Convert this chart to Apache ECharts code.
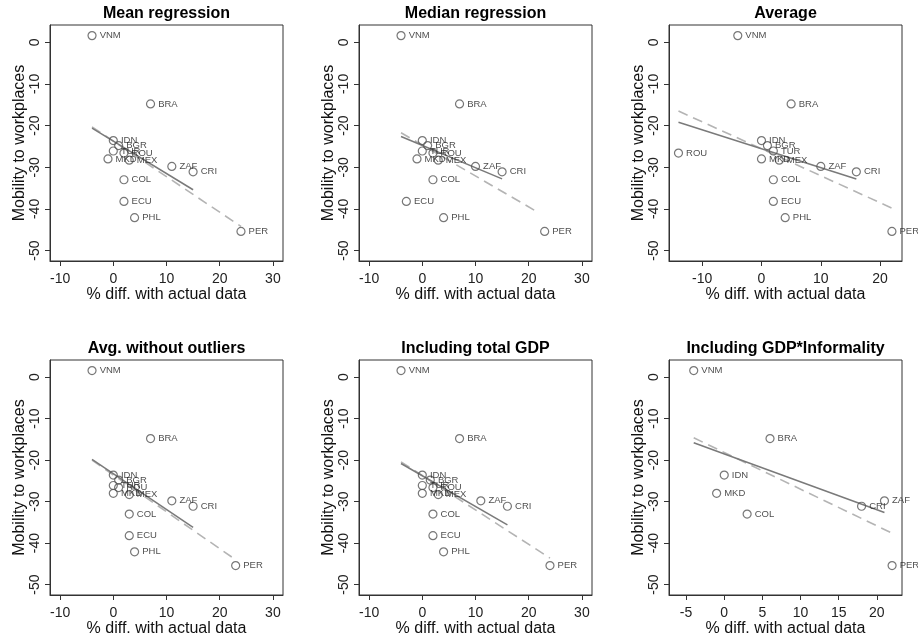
<!DOCTYPE html>
<html>
<head>
<meta charset="utf-8">
<script src="https://cdn.jsdelivr.net/npm/echarts@6/dist/echarts.min.js"></script>
<style>
html,body{margin:0;padding:0;background:#fff;}
#chart{width:918px;height:639px;}
</style>
</head>
<body>
<div id="chart"></div>
<script>
// ---- data ----
const countries = ['VNM','BRA','IDN','BGR','TUR','ROU','MKD','MEX','ZAF','CRI','COL','ECU','PHL','PER'];
const mobility  = [1.6,-14.8,-23.6,-24.8,-26.1,-26.6,-28.0,-28.3,-29.8,-31.1,-33.0,-38.2,-42.1,-45.4];

const diffMean           = [-4, 7, 0, 1,   0,  2,  -1, 3, 11, 15, 2,  2, 4, 24];
const diffMedian         = [-4, 7, 0, 1,   0,  2,  -1, 3, 10, 15, 2, -3, 4, 23];
const diffAverage        = [-4, 5, 0, 1,   2, -14,  0, 3, 10, 16, 2,  2, 4, 22];
const diffNoOutliers     = [-4, 7, 0, 1,   0,  1,   0, 3, 11, 15, 3,  3, 4, 23];
const diffTotalGdp       = [-4, 7, 0, 1.5, 0,  2,   0, 3, 11, 16, 2,  2, 4, 24];
const diffGdpInformality = [-4, 6, 0, null,null,null,-1,null,21,18, 3, null,null,22];

// fitted lines (endpoints): solid and dashed
const fitMeanSolid         = [[-4,-20.6],[15,-35.4]];
const fitMeanDashed        = [[-4,-20.3],[24,-44.2]];
const fitMedianSolid       = [[-4,-22.6],[15,-32.8]];
const fitMedianDashed      = [[-4,-21.7],[22,-41.0]];
const fitAverageSolid      = [[-14,-19.2],[16,-32.8]];
const fitAverageDashed     = [[-14,-16.5],[22,-39.8]];
const fitNoOutSolid        = [[-4,-19.8],[15,-36.2]];
const fitNoOutDashed       = [[-4,-20.0],[23,-44.0]];
const fitTotalGdpSolid     = [[-4,-20.8],[16,-35.6]];
const fitTotalGdpDashed    = [[-4,-20.4],[24,-43.6]];
const fitInformalitySolid  = [[-4,-15.8],[21,-32.6]];
const fitInformalityDashed = [[-4,-14.6],[22,-37.6]];

const panelTitles = ['Mean regression','Median regression','Average','Avg. without outliers','Including total GDP','Including GDP*Informality'];
const xTicksWide  = [-10, 0, 10, 20, 30];
const xTicksAvg   = [-10, 0, 10, 20];
const xTicksInf   = [-5, 0, 5, 10, 15, 20];
const yTicks      = [-50, -40, -30, -20, -10, 0];
const xTitle = '% diff. with actual data';
const yTitle = 'Mobility to workplaces';

// ---- layout ----
const FONT = '"Liberation Sans", Arial, sans-serif';
const panels = [
  {x: diffMean,           solid: fitMeanSolid,        dashed: fitMeanDashed,        xr: [-11.9, 31.9], ticks: xTicksWide, g: {left: 50,  top: 25,  width: 233, height: 236}},
  {x: diffMedian,         solid: fitMedianSolid,      dashed: fitMedianDashed,      xr: [-11.9, 31.9], ticks: xTicksWide, g: {left: 359, top: 25,  width: 233, height: 236}},
  {x: diffAverage,        solid: fitAverageSolid,     dashed: fitAverageDashed,     xr: [-15.6, 23.7], ticks: xTicksAvg,  g: {left: 669, top: 25,  width: 233, height: 236}},
  {x: diffNoOutliers,     solid: fitNoOutSolid,       dashed: fitNoOutDashed,       xr: [-11.9, 31.9], ticks: xTicksWide, g: {left: 50,  top: 360, width: 233, height: 235}},
  {x: diffTotalGdp,       solid: fitTotalGdpSolid,    dashed: fitTotalGdpDashed,    xr: [-11.9, 31.9], ticks: xTicksWide, g: {left: 359, top: 360, width: 233, height: 235}},
  {x: diffGdpInformality, solid: fitInformalitySolid, dashed: fitInformalityDashed, xr: [-7.24, 23.3], ticks: xTicksInf,  g: {left: 669, top: 360, width: 233, height: 235}}
];
const yRange = [-52.5, 4.15];

const grid = [], xAxis = [], yAxis = [], series = [], graphic = [];
panels.forEach((p, i) => {
  grid.push(Object.assign({show: true, borderColor: '#333', borderWidth: 1, backgroundColor: '#fff'}, p.g));
  graphic.push({
    type: 'text', x: p.g.left + p.g.width / 2, y: p.g.top - 11,
    style: {text: panelTitles[i], font: 'bold 16px ' + FONT, fill: '#000', align: 'center', verticalAlign: 'middle'}
  });
  xAxis.push({
    type: 'value', gridIndex: i, min: p.xr[0], max: p.xr[1],
    axisLine: {show: true, onZero: false, lineStyle: {color: '#333'}},
    axisTick: {show: true, length: 5, customValues: p.ticks, lineStyle: {color: '#333'}},
    axisLabel: {customValues: p.ticks, fontSize: 14, color: '#222', margin: 11, fontFamily: FONT},
    splitLine: {show: false},
    name: xTitle, nameLocation: 'middle', nameGap: 25,
    nameTextStyle: {fontSize: 16, color: '#111', fontFamily: FONT}
  });
  yAxis.push({
    type: 'value', gridIndex: i, min: yRange[0], max: yRange[1],
    axisLine: {show: true, onZero: false, lineStyle: {color: '#333'}},
    axisTick: {show: true, length: 5, customValues: yTicks, lineStyle: {color: '#333'}},
    axisLabel: {customValues: yTicks, fontSize: 14, color: '#222', margin: 8, rotate: 90, fontFamily: FONT},
    splitLine: {show: false},
    name: yTitle, nameLocation: 'middle', nameGap: 22,
    nameTextStyle: {fontSize: 16, color: '#111', fontFamily: FONT}
  });
  series.push({
    type: 'line', xAxisIndex: i, yAxisIndex: i, data: p.dashed, symbol: 'none',
    lineStyle: {color: '#b4b4b4', width: 1.6, type: [10, 6]}, z: 2
  });
  series.push({
    type: 'line', xAxisIndex: i, yAxisIndex: i, data: p.solid, symbol: 'none',
    lineStyle: {color: '#7a7a7a', width: 1.5}, z: 3
  });
  const pts = [];
  countries.forEach((c, k) => {
    if (p.x[k] !== null && p.x[k] !== undefined) pts.push([p.x[k], mobility[k], c]);
  });
  series.push({
    type: 'scatter', xAxisIndex: i, yAxisIndex: i, data: pts,
    symbol: 'circle', symbolSize: 8,
    itemStyle: {color: 'rgba(0,0,0,0)', borderColor: '#555', borderWidth: 1.2},
    label: {show: true, position: 'right', distance: 3, fontSize: 9.5, color: '#222', fontFamily: FONT,
            formatter: (prm) => prm.data[2]},
    z: 4
  });
});

const chart = echarts.init(document.getElementById('chart'), null, {renderer: 'canvas'});
chart.setOption({
  animation: false,
  backgroundColor: '#fff',
  textStyle: {fontFamily: FONT},
  grid, xAxis, yAxis, series, graphic
});
</script>
</body>
</html>
